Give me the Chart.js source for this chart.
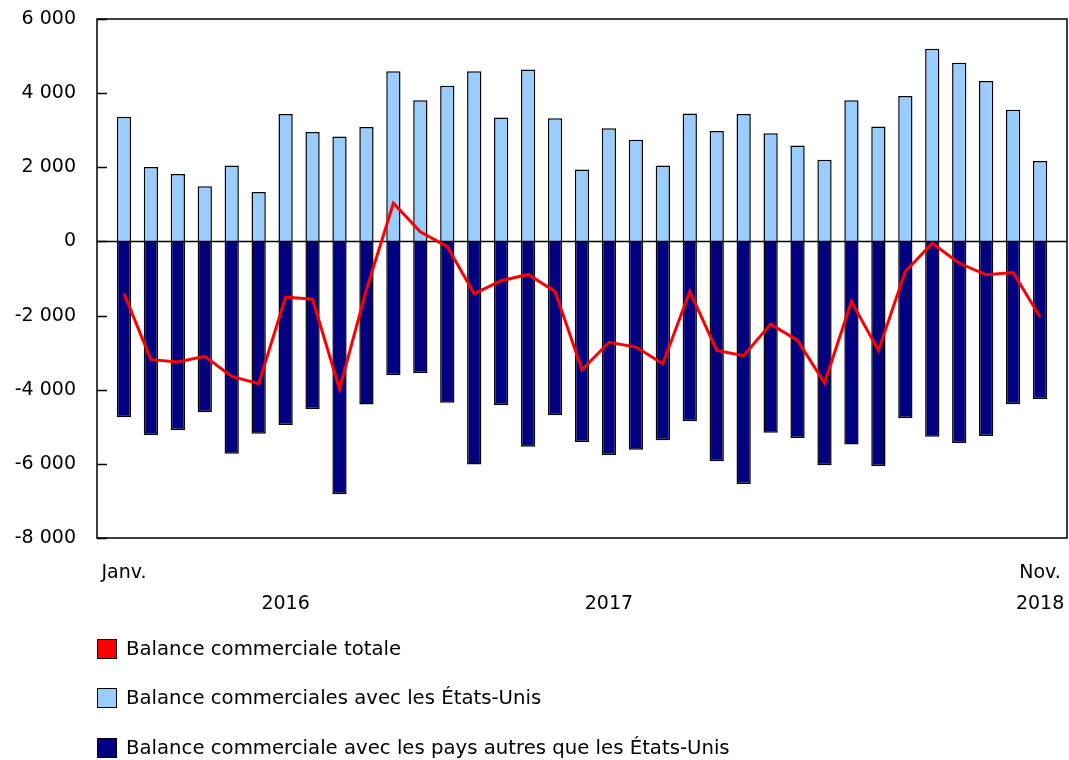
<!DOCTYPE html>
<html lang="fr">
<head>
<meta charset="utf-8">
<script src="https://cdn.jsdelivr.net/npm/chart.js@4.4.1/dist/chart.umd.min.js"></script>
<style>
  html, body { margin: 0; padding: 0; background: #fff; }
  #wrap { position: relative; width: 1069px; height: 760px; }
  canvas { position: absolute; left: 0; top: 0; }
  .leg { position: absolute; left: 97px; font-family: 'DejaVu Sans', Verdana, sans-serif; font-size: 19.7px; color: #000; white-space: nowrap; display: flex; align-items: center; }
  .leg span.box { display: inline-block; width: 18px; height: 18px; border: 1.5px solid #000; margin-right: 9px; }
</style>
</head>
<body>
<div id="wrap">
  <canvas id="c" width="1069" height="760"></canvas>
  <div class="leg" id="leg0" style="top:637px"></div>
  <div class="leg" id="leg1" style="top:686px"></div>
  <div class="leg" id="leg2" style="top:736px"></div>
</div>
<script>
// ---- Data (Jan 2016 to Nov 2018, millions of dollars) ----
const months = [
  "Janv. 2016","Févr. 2016","Mars 2016","Avr. 2016","Mai 2016","Juin 2016","Juil. 2016","Août 2016","Sept. 2016","Oct. 2016","Nov. 2016","Déc. 2016",
  "Janv. 2017","Févr. 2017","Mars 2017","Avr. 2017","Mai 2017","Juin 2017","Juil. 2017","Août 2017","Sept. 2017","Oct. 2017","Nov. 2017","Déc. 2017",
  "Janv. 2018","Févr. 2018","Mars 2018","Avr. 2018","Mai 2018","Juin 2018","Juil. 2018","Août 2018","Sept. 2018","Oct. 2018","Nov. 2018"
];
const totalBalance = [
  -1400, -3190, -3250, -3100, -3640, -3840, -1500, -1560, -3980, -1300, 1030, 260,
  -140, -1410, -1060, -890, -1350, -3460, -2720, -2850, -3300, -1350, -2940, -3080,
  -2230, -2670, -3820, -1620, -2940, -810, -50, -590, -900, -840, -2040
];
const usBalance = [
  3360, 2010, 1820, 1490, 2050, 1330, 3440, 2950, 2830, 3090, 4590, 3810,
  4200, 4590, 3340, 4640, 3320, 1940, 3050, 2740, 2050, 3450, 2980, 3440,
  2920, 2590, 2200, 3810, 3100, 3920, 5200, 4820, 4330, 3550, 2170
];
const otherBalance = [
  -4740, -5220, -5090, -4610, -5730, -5190, -4950, -4520, -6820, -4400, -3610, -3550,
  -4350, -6020, -4420, -5540, -4690, -5410, -5760, -5620, -5360, -4850, -5930, -6540,
  -5160, -5300, -6040, -5480, -6060, -4760, -5270, -5440, -5250, -4390, -4250
];
const seriesNames = [
  "Balance commerciale totale",
  "Balance commerciales avec les États-Unis",
  "Balance commerciale avec les pays autres que les États-Unis"
];
const seriesColors = ["#FF0000", "#99CCFF", "#000080"];
const xTickPositions = [0, 6, 18, 34];
const xTickLabels = [["Janv.", ""], ["", "2016"], ["", "2017"], ["Nov.", "2018"]];
const yTicks = [-8000, -6000, -4000, -2000, 0, 2000, 4000, 6000];

// ---- Legend (real text) ----
seriesNames.forEach((name, i) => {
  const el = document.getElementById('leg' + i);
  const box = document.createElement('span');
  box.className = 'box';
  box.style.background = seriesColors[i];
  el.appendChild(box);
  el.appendChild(document.createTextNode(name));
});

const toXY = arr => arr.map((v, i) => ({ x: i, y: v }));
const fmt = v => {
  const s = Math.abs(v).toString().replace(/\B(?=(\d{3})+(?!\d))/g, ' ');
  return (v < 0 ? '-' : '') + s;
};

const framePlugin = {
  id: 'frame',
  beforeDatasetDraw(chart, args) {
    if (args.meta.type !== 'line') return;
    const { ctx, chartArea: a, scales: { y } } = chart;
    const y0 = y.getPixelForValue(0);
    ctx.save();
    ctx.strokeStyle = '#000';
    ctx.lineWidth = 1.5;
    ctx.beginPath();
    ctx.moveTo(a.left, y0);
    ctx.lineTo(a.right, y0);
    ctx.stroke();
    ctx.restore();
  },
  afterDraw(chart) {
    const { ctx, chartArea: a, scales: { y } } = chart;
    ctx.save();
    ctx.strokeStyle = '#000';
    ctx.lineWidth = 1.5;
    ctx.strokeRect(a.left, a.top, a.right - a.left, a.bottom - a.top);
    ctx.beginPath();
    yTicks.forEach(t => {
      const py = Math.round(y.getPixelForValue(t)) + 0.5;
      ctx.moveTo(a.left, py);
      ctx.lineTo(a.left + 10, py);
    });
    ctx.stroke();
    ctx.restore();
  }
};

Chart.defaults.font.family = "'DejaVu Sans', Verdana, sans-serif";
Chart.defaults.font.size = 19;
Chart.defaults.color = '#000';

new Chart(document.getElementById('c'), {
  data: {
    datasets: [
      {
        type: 'line',
        label: seriesNames[0],
        data: toXY(totalBalance),
        borderColor: seriesColors[0],
        backgroundColor: seriesColors[0],
        borderWidth: 3,
        pointRadius: 0,
        tension: 0,
        order: 0
      },
      {
        type: 'bar',
        label: seriesNames[1],
        data: toXY(usBalance),
        backgroundColor: seriesColors[1],
        borderColor: '#000',
        borderWidth: 1.5,
        grouped: false,
        barPercentage: 0.53,
        categoryPercentage: 1,
        order: 1
      },
      {
        type: 'bar',
        label: seriesNames[2],
        data: toXY(otherBalance),
        backgroundColor: seriesColors[2],
        borderColor: '#000',
        borderWidth: 1.5,
        grouped: false,
        barPercentage: 0.53,
        categoryPercentage: 1,
        order: 1
      }
    ]
  },
  options: {
    responsive: false,
    animation: false,
    layout: { padding: { top: 19, right: 2, left: 0, bottom: 0 } },
    plugins: { legend: { display: false }, tooltip: { enabled: false } },
    scales: {
      x: {
        type: 'linear',
        min: -1,
        max: 35,
        offset: false,
        bounds: 'data',
        grid: { display: false, drawTicks: false, offset: false },
        border: { display: false },
        afterBuildTicks: scale => { scale.ticks = xTickPositions.map(v => ({ value: v })); },
        afterFit: scale => { scale.height = 222; scale.paddingLeft = 0; scale.paddingRight = 0; },
        ticks: {
          autoSkip: false,
          maxRotation: 0,
          padding: 20,
          font: { size: 19, lineHeight: 1.63 },
          callback: value => {
            const k = xTickPositions.indexOf(value);
            return k >= 0 ? xTickLabels[k] : '';
          }
        }
      },
      y: {
        min: -8000,
        max: 6000,
        grid: { display: false, drawTicks: false },
        border: { display: false },
        afterBuildTicks: scale => { scale.ticks = yTicks.map(v => ({ value: v })); },
        afterFit: scale => { scale.width = 97; scale.paddingTop = 0; scale.paddingBottom = 0; },
        ticks: {
          padding: 21,
          callback: v => fmt(v)
        }
      }
    }
  },
  plugins: [framePlugin]
});
</script>
</body>
</html>
